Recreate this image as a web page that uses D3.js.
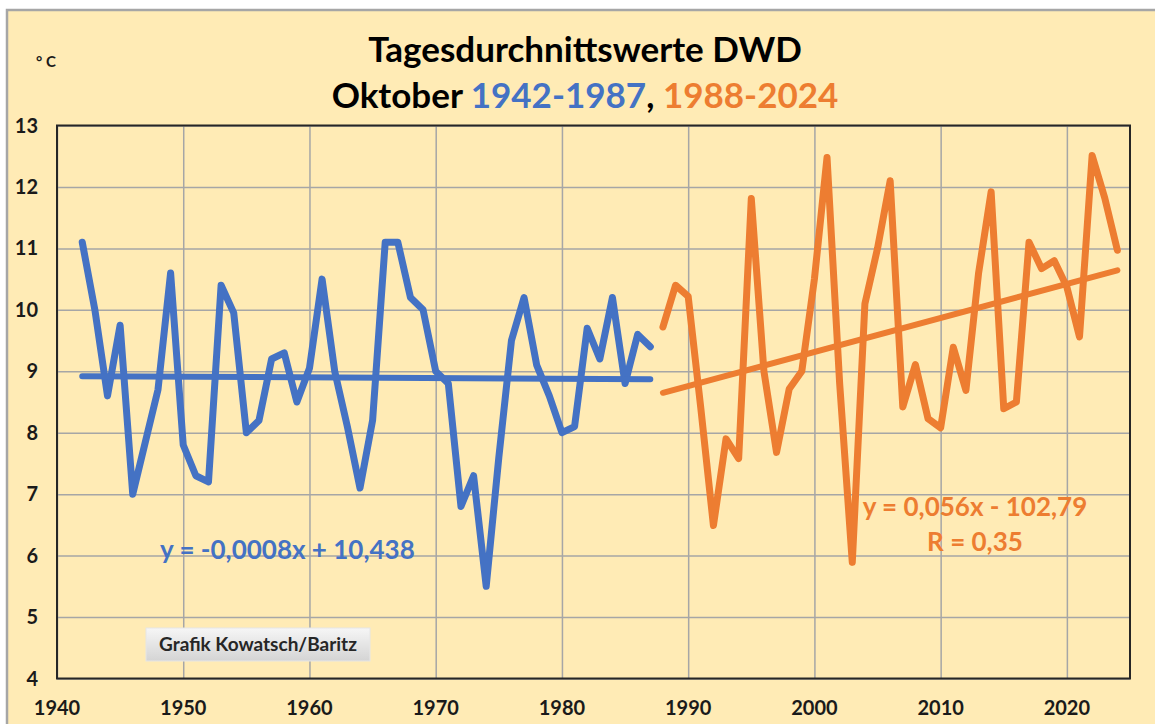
<!DOCTYPE html>
<html>
<head>
<meta charset="utf-8">
<script src="https://cdn.jsdelivr.net/npm/d3@7"></script>
<style>
  body { margin: 0; background: #fff; }
  text { font-family: Lato, "Open Sans", sans-serif; font-weight: bold; }
</style>
</head>
<body>
<script>
// Oktober-Mittel DWD, 1942-1987 (blau) und 1988-2024 (orange)
const years1 = d3.range(1942, 1988);
const temps1 = [11.1, 10.0, 8.6, 9.75, 7.0, 7.85, 8.7, 10.6, 7.8, 7.3,
  7.2, 10.4, 9.95, 8.0, 8.2, 9.2, 9.3, 8.5, 9.05, 10.5,
  9.0, 8.1, 7.1, 8.2, 11.1, 11.1, 10.2, 10.0, 9.0, 8.8,
  6.8, 7.3, 5.5, 7.6, 9.5, 10.2, 9.1, 8.6, 8.0, 8.1,
  9.7, 9.2, 10.2, 8.8, 9.6, 9.4];
const years2 = d3.range(1988, 2025);
const temps2 = [9.72, 10.4, 10.22, 8.4, 6.49, 7.9, 7.58, 11.81, 9.0, 7.68,
  8.71, 9.0, 10.5, 12.48, 8.8, 5.89, 10.1, 11.0, 12.1, 8.42,
  9.11, 8.23, 8.08, 9.39, 8.69, 10.59, 11.92, 8.39, 8.5, 11.1,
  10.67, 10.8, 10.37, 9.56, 12.51, 11.82, 10.97];

const xTicks = d3.range(1940, 2021, 10);
const yTicks = d3.range(4, 14, 1);
const eq1 = "y = -0,0008x + 10,438";
const eq2 = "y = 0,056x - 102,79";
const r2 = "R = 0,35";

const blue = "#4472C4";
const orange = "#ED7D31";

const width = 1155, height = 724;
const svg = d3.select("body").append("svg")
  .attr("width", width)
  .attr("height", height);

// Hintergrund
svg.append("rect")
  .attr("x", 7).attr("y", 10)
  .attr("width", width).attr("height", height)
  .attr("fill", "#FFEBB5")
  .attr("stroke", "#A6A6A6")
  .attr("stroke-width", 2.5);

const x = d3.scaleLinear().domain([1940, 2025]).range([57, 1130]);
const y = d3.scaleLinear().domain([4, 13]).range([678.5, 125.5]);

// Gitter
svg.append("g")
  .attr("transform", `translate(0,${y(4)})`)
  .call(d3.axisBottom(x).tickValues(xTicks).tickSize(-(y(4) - y(13))).tickFormat(""))
  .call(g => g.select(".domain").remove())
  .call(g => g.selectAll("line").attr("stroke", "#A6A6A6").attr("stroke-width", 1.5));

svg.append("g")
  .attr("transform", `translate(${x(1940)},0)`)
  .call(d3.axisLeft(y).tickValues(yTicks).tickSize(-(x(2025) - x(1940))).tickFormat(""))
  .call(g => g.select(".domain").remove())
  .call(g => g.selectAll("line").attr("stroke", "#A6A6A6").attr("stroke-width", 1.5));

// Rahmen
svg.append("rect")
  .attr("x", x(1940)).attr("y", y(13))
  .attr("width", x(2025) - x(1940)).attr("height", y(4) - y(13))
  .attr("fill", "none")
  .attr("stroke", "#262626")
  .attr("stroke-width", 2);

// Achsenbeschriftung
svg.append("g").selectAll("text")
  .data(xTicks).join("text")
  .attr("x", d => x(d)).attr("y", 715)
  .attr("text-anchor", "middle")
  .style("font-size", "20px")
  .attr("fill", "#1a1a1a")
  .text(d => d);

svg.append("g").selectAll("text")
  .data(yTicks).join("text")
  .attr("x", 38).attr("y", d => y(d) + 7)
  .attr("text-anchor", "end")
  .style("font-size", "20px")
  .attr("fill", "#1a1a1a")
  .text(d => d);

svg.append("text")
  .attr("x", 36).attr("y", 67)
  .style("font-size", "15px")
  .attr("fill", "#1a1a1a")
  .text("° C");

// Titel
svg.append("text")
  .attr("x", 585).attr("y", 62)
  .attr("text-anchor", "middle")
  .style("font-size", "35px")
  .attr("fill", "#000")
  .text("Tagesdurchnittswerte DWD");

const t2 = svg.append("text")
  .attr("x", 585).attr("y", 108)
  .attr("text-anchor", "middle")
  .style("font-size", "35px")
  .attr("fill", "#000");
t2.append("tspan").text("Oktober ");
t2.append("tspan").attr("fill", blue).text("1942-1987");
t2.append("tspan").text(", ");
t2.append("tspan").attr("fill", orange).text("1988-2024");

// lineare Regression (kleinste Quadrate)
function trend(xs, ys) {
  const mx = d3.mean(xs), my = d3.mean(ys);
  const b = d3.sum(xs, (v, i) => (v - mx) * (ys[i] - my)) / d3.sum(xs, v => (v - mx) ** 2);
  const a = my - b * mx;
  return [xs[0], xs[xs.length - 1]].map(v => [v, a + b * v]);
}

const line = d3.line().x(d => x(d[0])).y(d => y(d[1]));

const series = [
  { years: years1, temps: temps1, color: blue },
  { years: years2, temps: temps2, color: orange }
];

series.forEach(s => {
  svg.append("path")
    .datum(s.years.map((v, i) => [v, s.temps[i]]))
    .attr("d", line)
    .attr("fill", "none")
    .attr("stroke", s.color)
    .attr("stroke-width", 7)
    .attr("stroke-linejoin", "round")
    .attr("stroke-linecap", "round");
});

series.forEach(s => {
  svg.append("path")
    .datum(trend(s.years, s.temps))
    .attr("d", line)
    .attr("fill", "none")
    .attr("stroke", s.color)
    .attr("stroke-width", 6)
    .attr("stroke-linecap", "round");
});

// Gleichungen
svg.append("text")
  .attr("x", 160).attr("y", 559)
  .style("font-size", "26px")
  .attr("fill", blue)
  .text(eq1);

svg.append("text")
  .attr("x", 975).attr("y", 516)
  .attr("text-anchor", "middle")
  .style("font-size", "26px")
  .attr("fill", orange)
  .text(eq2);

svg.append("text")
  .attr("x", 975).attr("y", 551)
  .attr("text-anchor", "middle")
  .style("font-size", "26px")
  .attr("fill", orange)
  .text(r2);

// Quellenkasten
const grad = svg.append("defs").append("linearGradient")
  .attr("id", "grau").attr("x1", 0).attr("y1", 0).attr("x2", 0).attr("y2", 1);
grad.append("stop").attr("offset", "0%").attr("stop-color", "#F6F6F6");
grad.append("stop").attr("offset", "100%").attr("stop-color", "#D4D4D4");

svg.append("rect")
  .attr("x", 146).attr("y", 628)
  .attr("width", 224).attr("height", 33)
  .attr("fill", "url(#grau)")
  .attr("stroke", "#E6E6E6")
  .attr("stroke-width", 1);

svg.append("text")
  .attr("x", 258).attr("y", 651)
  .attr("text-anchor", "middle")
  .style("font-size", "19px")
  .attr("fill", "#262626")
  .text("Grafik Kowatsch/Baritz");
</script>
</body>
</html>
